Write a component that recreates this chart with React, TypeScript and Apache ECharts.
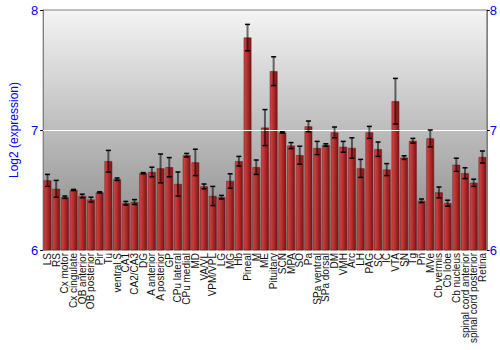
import React, { useEffect, useRef } from "react";
import * as echarts from "echarts";

const categories = [
  "LS", "RS", "Cx motor", "Cx cingulate", "OB anterior", "OB posterior", "Pir", "Tu",
  "ventral S", "CA1", "CA2/CA3", "DG", "A anterior", "A posterior", "GP", "CPu lateral",
  "CPu medial", "MD", "VA/VL", "VPM/VPL", "LG", "MG", "Hb", "Pineal", "M", "ME",
  "Pituitary", "SCN", "MPA", "SO", "Pa", "SPa ventral", "SPa dorsal", "DM", "VMH", "Arc",
  "LH", "PAG", "SC", "IC", "VTA", "SN", "Tg", "Pn", "MVe", "Cb vermis", "Cb lobe",
  "Cb nucleus", "spinal cord anterior", "spinal cord posterior", "Retina",
];

const values = [
  6.58, 6.51, 6.44, 6.5, 6.45, 6.42, 6.48, 6.74,
  6.59, 6.39, 6.4, 6.64, 6.65, 6.68, 6.69, 6.55,
  6.79, 6.73, 6.53, 6.45, 6.44, 6.575, 6.74, 7.77, 6.69, 7.02,
  7.49, 6.98, 6.87, 6.79, 7.03, 6.85, 6.875, 6.98, 6.86, 6.85,
  6.68, 6.98, 6.84, 6.67, 7.24, 6.77, 6.91, 6.41, 6.93, 6.48, 6.39,
  6.71, 6.64, 6.56, 6.775,
];

const errors = [
  0.05, 0.07, 0.01, 0.005, 0.015, 0.02, 0.005, 0.09,
  0.01, 0.015, 0.02, 0.005, 0.04, 0.12, 0.08, 0.1,
  0.015, 0.11, 0.02, 0.08, 0.015, 0.06, 0.04, 0.11, 0.06, 0.15,
  0.12, 0.005, 0.025, 0.075, 0.045, 0.055, 0.01, 0.045, 0.045, 0.085,
  0.075, 0.05, 0.06, 0.05, 0.19, 0.015, 0.02, 0.015, 0.07, 0.045, 0.025,
  0.055, 0.045, 0.03, 0.05,
];

const yTicks = { min: 6, max: 8, interval: 1 };
const axisName = "Log2 (expression)";

export default function App() {
  const ref = useRef<HTMLDivElement>(null);
  useEffect(() => {
    if (!ref.current) return;
    const chart = echarts.init(ref.current, undefined, { renderer: "svg" });
    const errData = values.map((v, i) => [i, v - errors[i], v + errors[i]]);
    const blue = "#0000ff";
    const font = "Liberation Sans, Arial, sans-serif";
    chart.setOption({
      animation: false,
      grid: {
        left: 28,
        right: 12,
        top: 10,
        bottom: 100,
        show: true,
        borderColor: "#808080",
        borderWidth: 1,
        backgroundColor: new echarts.graphic.LinearGradient(0, 0, 0, 1, [
          { offset: 0, color: "#f4f4f4" },
          { offset: 1, color: "#858585" },
        ]),
      },
      xAxis: {
        type: "category",
        data: categories,
        axisLine: { show: false },
        axisTick: { show: false },
        axisLabel: {
          interval: 0,
          rotate: 90,
          fontSize: 10,
          color: "#111",
          fontFamily: font,
          margin: 3,
        },
      },
      yAxis: [
        {
          type: "value",
          min: yTicks.min,
          max: yTicks.max,
          interval: yTicks.interval,
          position: "left",
          name: axisName,
          nameLocation: "middle",
          nameGap: 17,
          nameTextStyle: { color: blue, fontSize: 12, fontFamily: font },
          axisLine: { show: true, lineStyle: { color: "#808080" } },
          axisTick: { show: true, length: 3, lineStyle: { color: "#000" } },
          axisLabel: { color: blue, fontSize: 13, fontFamily: font, margin: 5 },
          splitLine: { show: false },
        },
        {
          type: "value",
          min: yTicks.min,
          max: yTicks.max,
          interval: yTicks.interval,
          position: "right",
          axisLine: { show: true, lineStyle: { color: "#808080" } },
          axisTick: { show: true, length: 3, lineStyle: { color: "#000" } },
          axisLabel: { color: blue, fontSize: 13, fontFamily: font, margin: 3 },
          splitLine: { show: false },
        },
      ],
      series: [
        {
          type: "bar",
          data: values,
          barCategoryGap: "12%",
          itemStyle: {
            color: new echarts.graphic.LinearGradient(0, 0, 1, 0, [
              { offset: 0, color: "#cf4a4a" },
              { offset: 0.45, color: "#b52e2e" },
              { offset: 1, color: "#7c1414" },
            ]),
            borderColor: "#6a1010",
            borderWidth: 0.5,
          },
          markLine: {
            silent: true,
            symbol: "none",
            label: { show: false },
            lineStyle: { color: "#ffffff", type: "solid", width: 1.2 },
            data: [{ yAxis: 7 }],
          },
          z: 2,
        },
        {
          type: "custom",
          data: errData,
          z: 5,
          renderItem: (params: any, api: any) => {
            const x = api.value(0);
            const lo = api.coord([x, api.value(1)]);
            const hi = api.coord([x, api.value(2)]);
            const cx = lo[0];
            const hw = 2.5;
            return {
              type: "group",
              children: [
                {
                  type: "line",
                  shape: { x1: cx, y1: lo[1], x2: cx, y2: hi[1] },
                  style: { stroke: "rgba(0,0,0,0.55)", lineWidth: 2 },
                },
                {
                  type: "line",
                  shape: { x1: cx - hw, y1: hi[1], x2: cx + hw, y2: hi[1] },
                  style: { stroke: "#000", lineWidth: 1.5 },
                },
                {
                  type: "line",
                  shape: { x1: cx - hw, y1: lo[1], x2: cx + hw, y2: lo[1] },
                  style: { stroke: "#000", lineWidth: 1.5 },
                },
              ],
            };
          },
        },
      ],
    });
    return () => chart.dispose();
  }, []);
  return (
    <div
      ref={ref}
      style={{ position: "absolute", left: 0, top: 0, width: 500, height: 350 }}
    />
  );
}
